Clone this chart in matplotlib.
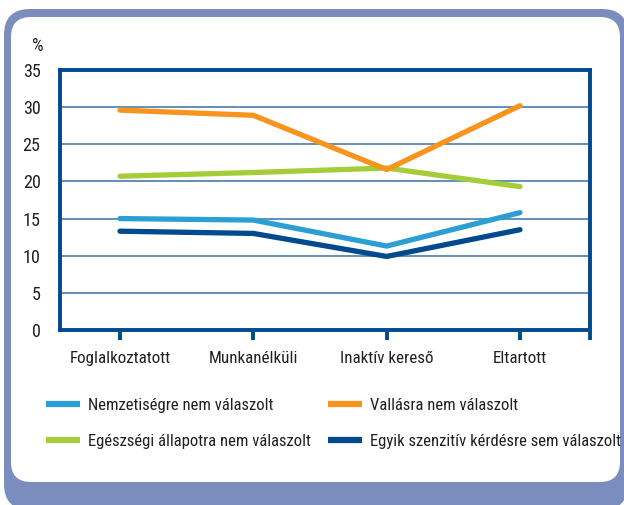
import matplotlib
matplotlib.use("Agg")
import matplotlib.pyplot as plt
from matplotlib import font_manager
from matplotlib.font_manager import FontProperties
from matplotlib.textpath import TextPath
from matplotlib.patches import FancyBboxPatch
from matplotlib.transforms import IdentityTransform

# Data
categories = ["Foglalkoztatott", "Munkanélküli", "Inaktív kereső", "Eltartott"]
nemzetiseg = [15.0, 14.8, 11.3, 15.8]
vallas = [29.6, 28.9, 21.6, 30.2]
egeszseg = [20.7, 21.2, 21.8, 19.3]
egyik = [13.3, 13.0, 9.9, 13.5]

# legend is filled column by column, so this order gives the reference rows
series = [
    ("Nemzetiségre nem válaszolt", nemzetiseg, "#2b9fd4"),
    ("Egészségi állapotra nem válaszolt", egeszseg, "#a5cd39"),
    ("Vallásra nem válaszolt", vallas, "#f7941d"),
    ("Egyik szenzitív kérdésre sem válaszolt", egyik, "#004a8d"),
]


def text_w(s, fp):
    return TextPath((0, 0), s, size=10, prop=fp).get_extents().width


def text_h(s, fp):
    return TextPath((0, 0), s, size=10, prop=fp).get_extents().height


# the original uses a condensed face; pick the installed font whose
# label width / digit height is closest to the reference
bases = ["DejaVu Sans", "Liberation Sans", "Noto Sans", "Roboto", "Open Sans", "Lato", "Inter"]
suffixes = ["", " Condensed", " SemiCondensed", " ExtraCondensed", " Narrow",
            " Semi Condensed", " Extra Condensed"]
allowed = {b + s for b in bases for s in suffixes}

best = None
seen = set()
for f in font_manager.fontManager.ttflist:
    if f.name not in allowed or f.fname in seen:
        continue
    if f.style != "normal" or f.weight not in (400, "normal", "regular"):
        continue
    seen.add(f.fname)
    try:
        fp = FontProperties(fname=f.fname)
        r = text_w("Foglalkoztatott", fp) / text_h("35", fp)
    except Exception:
        continue
    if best is None or abs(r - 7.5) < abs(best[0] - 7.5):
        best = (r, f.fname)

font = FontProperties(fname=best[1]) if best else FontProperties(family="DejaVu Sans")

px = 100 / 72  # pixels per point at 100 dpi
# sizes matched to the reference: digit height, x label width, legend label width
num_size = 13.3 / (text_h("35", font) / 10 * px)
cat_size = 100 / (text_w("Foglalkoztatott", font) / 10 * px)
leg_size = 222 / (text_w("Egészségi állapotra nem válaszolt", font) / 10 * px)

text_color = "#231f20"
spine_color = "#004a8d"
frame_color = "#7a8dbd"

fig = plt.figure(figsize=(6.24, 5.05), dpi=100)

# Rounded frame behind everything (pixel coordinates)
outer = FancyBboxPatch((4, -5), 624, 501, boxstyle="round,pad=0,rounding_size=26",
                       transform=IdentityTransform(), facecolor=frame_color,
                       edgecolor="none", zorder=-10)
inner = FancyBboxPatch((11, 23), 609, 465, boxstyle="round,pad=0,rounding_size=20",
                       transform=IdentityTransform(), facecolor="white",
                       edgecolor="none", zorder=-9)
fig.add_artist(outer)
fig.add_artist(inner)

ax = fig.add_axes([60 / 624, 175 / 505, 530 / 624, 260 / 505])
ax.set_facecolor("none")

x = list(range(len(categories)))
for label, values, color in series:
    ax.plot(x, values, color=color, linewidth=3.8, label=label,
            solid_capstyle="round", zorder=3)

ax.set_xlim(-0.45, 3.525)
ax.set_ylim(0, 35)
ax.set_yticks(range(0, 36, 5))
ax.set_xticks(x)
ax.set_xticklabels(categories)
ax.set_xticks([3.525], minor=True)

ax.grid(axis="y", color="#3b6fa5", linewidth=1.1)
ax.set_axisbelow(True)
for s in ax.spines.values():
    s.set_color(spine_color)
    s.set_linewidth(2.8)

ax.tick_params(axis="x", which="both", direction="out", length=7, width=2.8,
               color=spine_color, labelcolor=text_color, pad=8)
ax.tick_params(axis="y", length=0, labelcolor=text_color, pad=14)
for t in ax.get_xticklabels():
    t.set_fontproperties(font)
    t.set_fontsize(cat_size)
for t in ax.get_yticklabels():
    t.set_fontproperties(font)
    t.set_fontsize(num_size)

fig.text(38 / 624, 1 - 46 / 505, "%", fontproperties=font, fontsize=num_size,
         color=text_color, ha="center", va="center")

em = leg_size * px
leg_font = font.copy()
leg_font.set_size(leg_size)
leg = fig.legend(loc="upper left", bbox_to_anchor=(31 / 624, 1 - 383 / 505),
                 ncol=2, frameon=False, prop=leg_font, handlelength=34 / em,
                 handletextpad=8 / em, columnspacing=17 / em,
                 labelspacing=(41 - em * 1.2) / em)
for t in leg.get_texts():
    t.set_color(text_color)
for h in leg.get_lines():
    h.set_linewidth(4.5)
    h.set_solid_capstyle("butt")

fig.savefig("out.png", dpi=100)
